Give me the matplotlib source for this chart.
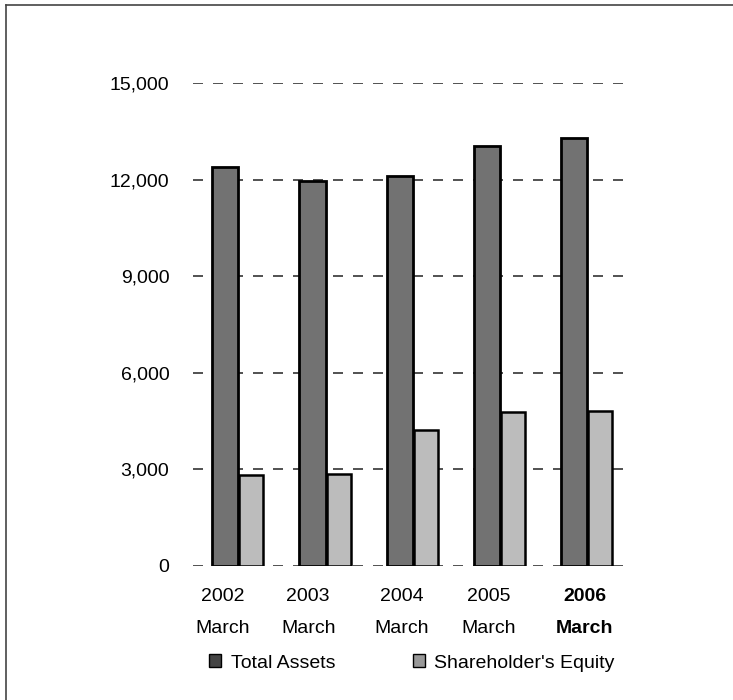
import matplotlib.pyplot as plt
from matplotlib.patches import Patch
from matplotlib.lines import Line2D
import numpy as np

plt.rcParams['font.family'] = ['Liberation Sans', 'DejaVu Sans']

# Данные
years = ['2002', '2003', '2004', '2005', '2006']
total_assets = [12400, 11950, 12100, 13050, 13300]
equity = [2830, 2850, 4220, 4790, 4800]
y_ticks = [0, 3000, 6000, 9000, 12000, 15000]

x = np.arange(len(years))
w = 0.30
label_shift = [-0.18, -0.20, -0.13, -0.13, -0.03]  # подписи чуть левее центра групп

fig = plt.figure(figsize=(7.33, 7.0), dpi=100)
ax = fig.add_axes([193 / 733, 1 - 566 / 700, (630 - 193) / 733, (566 - 83) / 700])

ax.bar(x - w / 2, total_assets, w, color='#727272', edgecolor='black', lw=2, zorder=3)
ax.bar(x + w / 2, equity, w * 0.92, color='#bcbcbc', edgecolor='black', lw=1.8, zorder=3)

ax.set_ylim(0, 15000)
ax.set_xlim(-0.52, 4.49)
ax.set_yticks(y_ticks)
ax.set_yticklabels([f'{v:,}' for v in y_ticks], fontsize=14)
ax.yaxis.grid(True, ls=(0, (6, 6)), color='#333333', lw=1.2)
ax.set_axisbelow(True)
ax.tick_params(axis='y', length=0, pad=17)
ax.tick_params(axis='x', length=0, pad=16)

ax.set_xticks(x + np.array(label_shift))
labels = ax.set_xticklabels([f'{y}\nMarch' for y in years], fontsize=14, linespacing=2.15)
labels[-1].set_fontweight('bold')

for s in ax.spines.values():
    s.set_visible(False)

# Легенда
handles = [Patch(facecolor='#444444', edgecolor='black', label='Total Assets'),
           Patch(facecolor='#999999', edgecolor='black', label="Shareholder's Equity")]
fig.legend(handles=handles, loc='center', bbox_to_anchor=(412 / 733, 1 - 663 / 700),
           ncol=2, frameon=False, fontsize=14, handlelength=0.6, handleheight=0.6,
           handletextpad=0.5, columnspacing=4.0)

# Рамка сверху и слева
fig.add_artist(Line2D([6 / 733, 1], [1 - 5 / 700, 1 - 5 / 700], transform=fig.transFigure, color='#444444', lw=1.2))
fig.add_artist(Line2D([6 / 733, 6 / 733], [0, 1 - 5 / 700], transform=fig.transFigure, color='#444444', lw=1.2))

fig.savefig('out.png', dpi=100)
